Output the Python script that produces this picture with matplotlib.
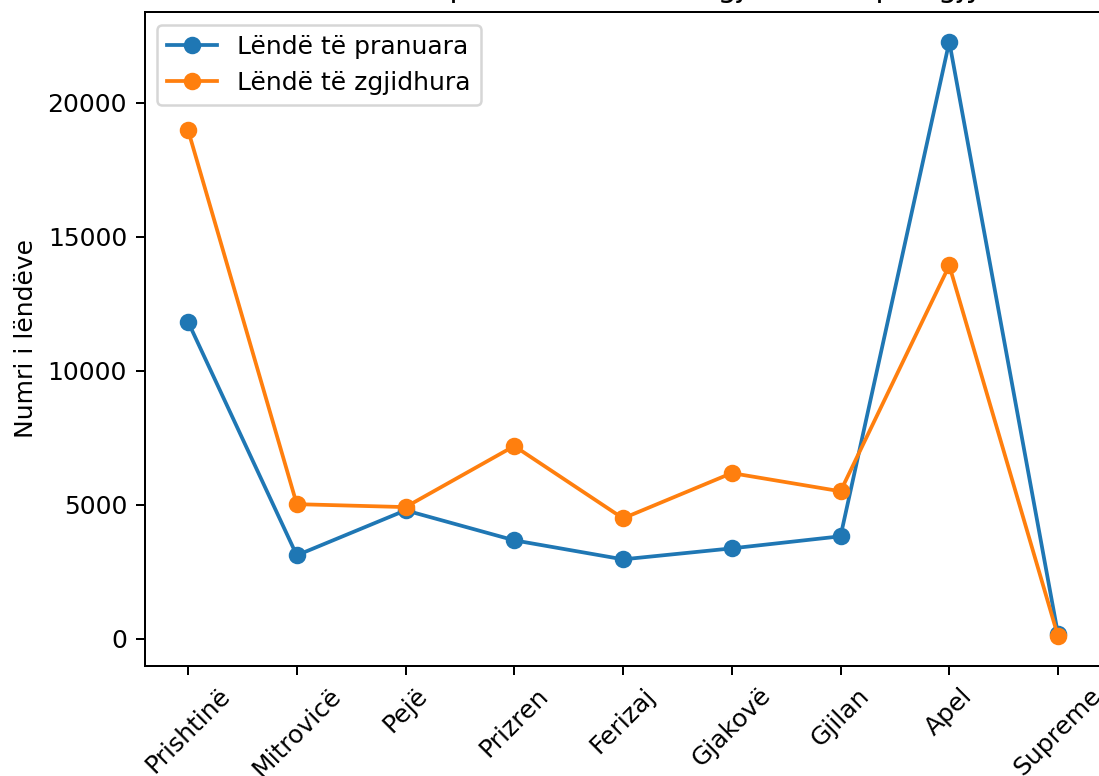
import matplotlib.pyplot as plt

# Gjykatat dhe numri i lëndëve
gjykatat = ["Prishtinë", "Mitrovicë", "Pejë", "Prizren", "Ferizaj",
            "Gjakovë", "Gjilan", "Apel", "Supreme"]
pranuara = [11830, 3110, 4790, 3670, 2960, 3370, 3820, 22280, 160]
zgjidhura = [18990, 5020, 4910, 7190, 4490, 6180, 5500, 13930, 90]

fig = plt.figure(figsize=(1099 / 180, 776 / 180), dpi=180)
ax = fig.add_axes([0.1315, 0.1418, 0.8708, 0.8427])

ax.plot(gjykatat, pranuara, marker='o', label='Lëndë të pranuara')
ax.plot(gjykatat, zgjidhura, marker='o', label='Lëndë të zgjidhura')

ax.set_title("Numri i lëndëve të pranuara dhe të zgjidhura sipas gjykatave")
ax.set_ylabel("Numri i lëndëve")
ax.tick_params(axis='x', rotation=45)
ax.legend(loc='upper left')

fig.savefig("out.png", dpi=180)
